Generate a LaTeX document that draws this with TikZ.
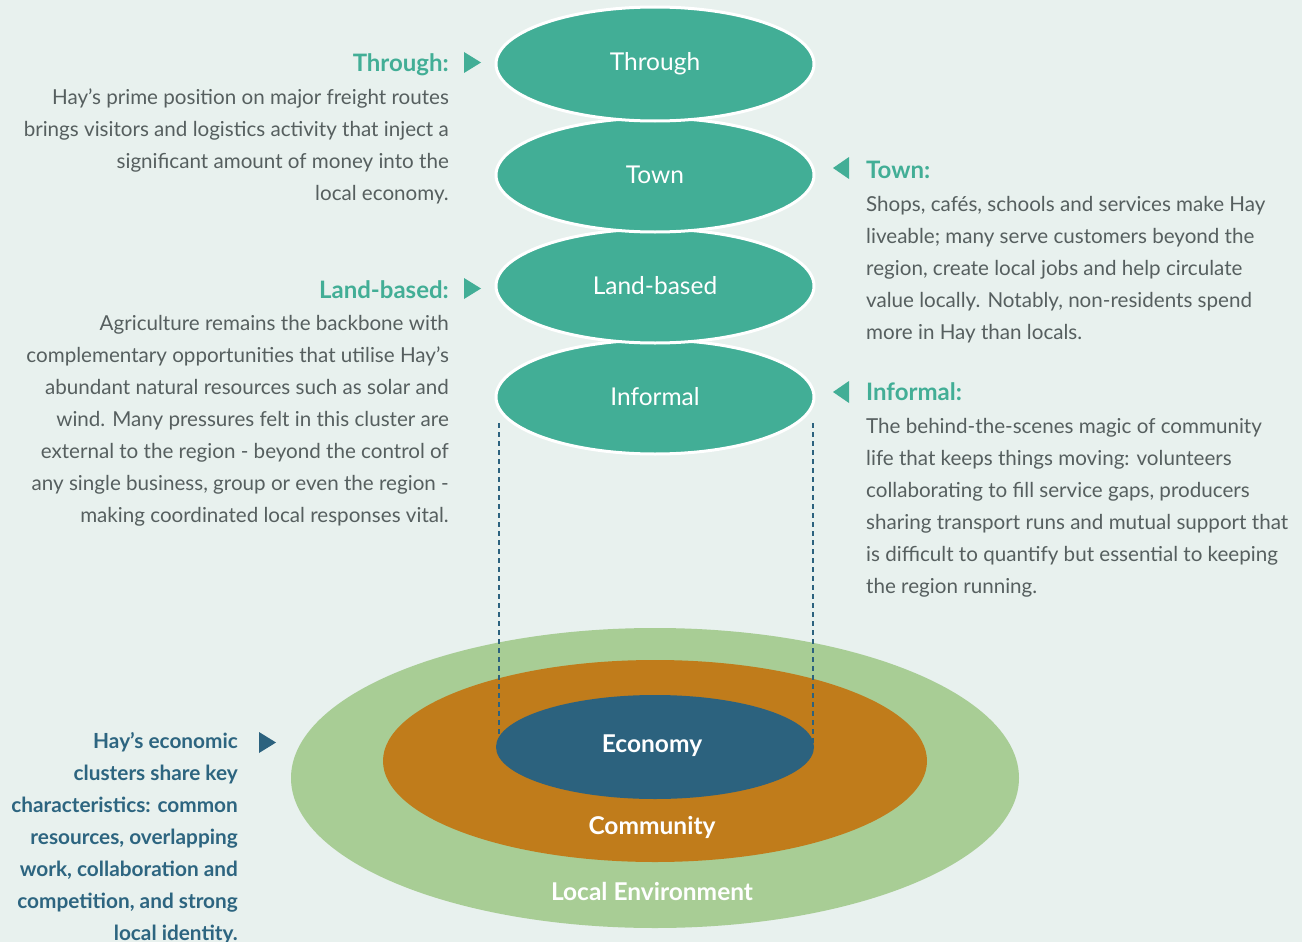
\documentclass[tikz,border=0pt]{standalone}
\usepackage{fontspec}
\setmainfont{Lato}
\usetikzlibrary{positioning,shapes.geometric}
\definecolor{bgcol}{HTML}{E8F1EE}
\definecolor{clusterteal}{HTML}{42AE96}
\definecolor{envgreen}{HTML}{A8CD95}
\definecolor{commorange}{HTML}{C07C1B}
\definecolor{econblue}{HTML}{2C627E}
\definecolor{bodygray}{HTML}{565F5F}
\definecolor{notetext}{HTML}{2D6580}
\tikzset{cluster node/.style={ellipse,fill=clusterteal,draw=white,line width=3pt,minimum width=318pt,minimum height=114pt,inner sep=0pt,outer sep=0pt,text=white,font=\fontsize{24.5}{28}\selectfont},
  ring node/.style={ellipse,inner sep=0pt,outer sep=0pt},
  ring label/.style={text=white,font=\fontsize{24.5}{28}\selectfont\bfseries},
  head/.style={text=clusterteal,font=\fontsize{24}{28}\selectfont\bfseries,inner sep=0pt},
  body/.style={text=bodygray,font=\fontsize{20.6}{32}\selectfont,inner sep=0pt},
  note/.style={text=notetext,font=\fontsize{20.8}{32}\selectfont\bfseries,inner sep=0pt,align=right},
  guide/.style={econblue,line width=1.2pt,dash pattern=on 5pt off 4pt}}

\begin{document}
\begin{tikzpicture}[x=1pt,y=-1pt]
            \useasboundingbox[fill=bgcol] (0,0) rectangle (1302,942);

            % rings at the bottom
            \node[ring node,fill=envgreen,minimum width=728pt,minimum height=300pt] (env) at (655,778) {};
            \node[ring node,fill=commorange,minimum width=544pt,minimum height=202pt] (comm) at (655,761) {};
            \coordinate (guideLtop) at (499,423);
            \coordinate (guideRtop) at (813,423);
            \coordinate (guideLbot) at (499,747);
            \coordinate (guideRbot) at (813,747);
            \draw[guide] (guideLtop) -- (guideLbot);
            \draw[guide] (guideRtop) -- (guideRbot);
            \node[ring node,fill=econblue,minimum width=318pt,minimum height=104pt] (econ) at (655,747) {};
            \node[ring label] at (652,746) {Economy};
            \node[ring label] at (652,827) {Community};
            \node[ring label] at (652,891) {Local Environment};

            % the four clusters, lowest first
            \node[cluster node] (informal) at (655,397) {Informal};
            \node[cluster node] (landbased) [above=-3pt of informal] {Land-based};
            \node[cluster node] (town) [above=-3pt of landbased] {Town};
            \node[cluster node] (through) [above=-3pt of town] {Through};

            % pointers
            \fill[clusterteal] (464,52) -- (481,62.5) -- (464,73) -- cycle;
            \fill[clusterteal] (849,157) -- (833,168) -- (849,179) -- cycle;
            \fill[clusterteal] (464,278) -- (481,288.5) -- (464,299) -- cycle;
            \fill[clusterteal] (849,381) -- (833,392) -- (849,403) -- cycle;
            \fill[econblue] (259,732) -- (276,742.5) -- (259,753) -- cycle;

            % left texts (base = last line)
            \node[head,anchor=base east] (throughhead) at (449,72) {Through:};
            \node[body,anchor=base east,align=right] (throughtext) at (449,200)
              {Hay’s prime position on major freight routes\\
               brings visitors and logistics activity that inject a\\
               significant amount of money into the\\
               local economy.};
            \node[head,anchor=base east] (landhead) at (449,298) {Land-based:};
            \node[body,anchor=base east,align=right] (landtext) at (449,522)
              {Agriculture remains the backbone with\\
               complementary opportunities that utilise Hay’s\\
               abundant natural resources such as solar and\\
               wind. Many pressures felt in this cluster are\\
               external to the region - beyond the control of\\
               any single business, group or even the region -\\
               making coordinated local responses vital.};

            % right texts
            \node[head,anchor=base west] (townhead) at (866,178) {Town:};
            \node[body,anchor=base west,align=left] (towntext) at (866,339)
              {Shops, cafés, schools and services make Hay\\
               liveable; many serve customers beyond the\\
               region, create local jobs and help circulate\\
               value locally. Notably, non-residents spend\\
               more in Hay than locals.};
            \node[head,anchor=base west] (informalhead) at (866,400) {Informal:};
            \node[body,anchor=base west,align=left] (informaltext) at (866,593)
              {The behind-the-scenes magic of community\\
               life that keeps things moving: volunteers\\
               collaborating to fill service gaps, producers\\
               sharing transport runs and mutual support that\\
               is difficult to quantify but essential to keeping\\
               the region running.};

            % note on the economy
            \node[note,anchor=base east] (econnote) at (238,940)
              {Hay’s economic\\
               clusters share key\\
               characteristics: common\\
               resources, overlapping\\
               work, collaboration and\\
               competition, and strong\\
               local identity.};
        \end{tikzpicture}
\end{document}
